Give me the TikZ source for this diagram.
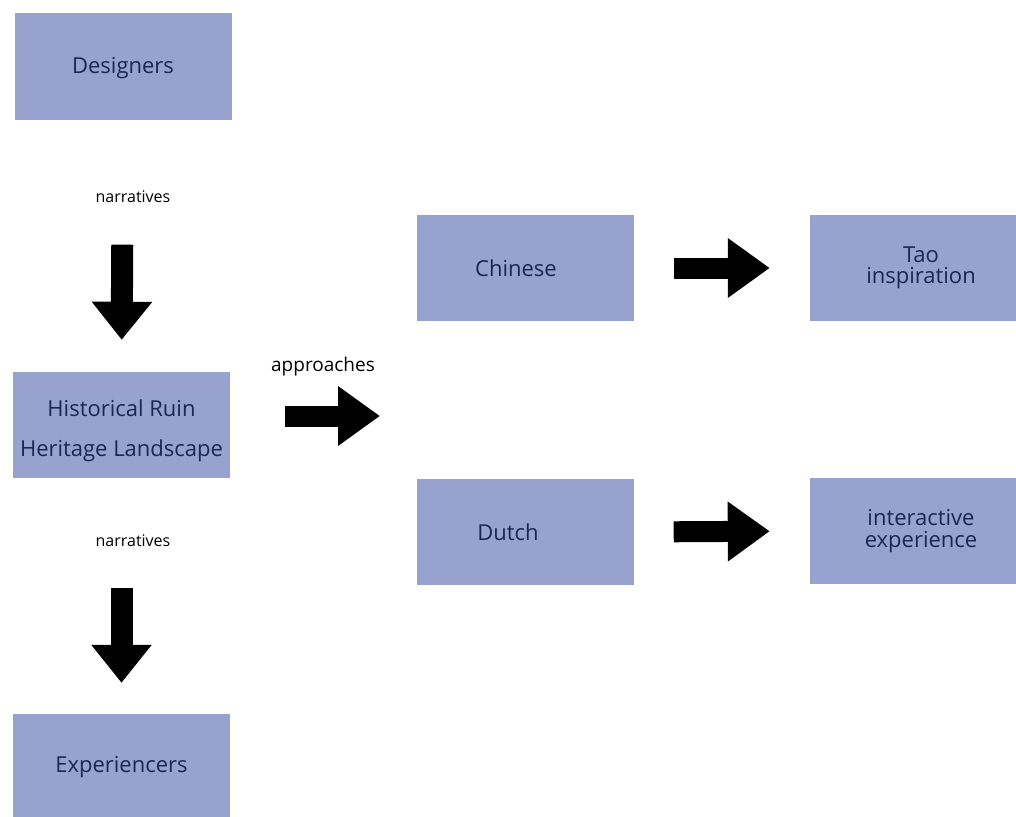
\documentclass[tikz,border=0pt]{standalone}
\usepackage{fontspec}
\setmainfont{Open Sans}
\usetikzlibrary{arrows.meta}
\definecolor{boxfill}{HTML}{98A2CE}
\definecolor{boxtext}{HTML}{1C2652}
\begin{document}
\begin{tikzpicture}[x=1pt,y=-1pt,
  box/.style={fill=boxfill, draw=none, minimum width=217pt, minimum height=106pt,
    inner sep=0pt, text=boxtext, font=\fontsize{22}{26}\selectfont, align=center},
  boxtitle/.style={inner sep=0pt, text=boxtext, align=center},
  tight/.style={font=\fontsize{22}{21.5}\selectfont},
  edgelabel/.style={text=black, font=\fontsize{16}{20}\selectfont, inner sep=0pt},
  vflow/.style={line width=22pt, -{Triangle[width=58pt,length=38pt]}},
  hflow/.style={line width=21pt, -{Triangle[width=57pt,length=42pt]}}]
\useasboundingbox (0,0) rectangle (1016,816);
% left column
\node[box] (designers) at (123,66.5) {};
\node[boxtitle, font=\fontsize{22}{26}\selectfont] (designerstext) at ([yshift=-2pt]designers.center) {Designers};
\node[box] (heritage) at (121.5,425) {};
\node[boxtitle, font=\fontsize{22}{40}\selectfont] (heritagetext) at ([yshift=-6pt]heritage.center)
  {Historical Ruin\\Heritage Landscape};
\node[box] (experiencers) at (121.5,767) {Experiencers};
% right side
\node[box] (chinese) at (525,268) {\hspace*{-18pt}Chinese};
\node[box] (dutch) at (525,532) {\hspace*{-34pt}Dutch};
\node[box, tight, minimum width=206pt] (tao) at (913,268) {\hspace*{16pt}Tao\\\hspace*{16pt}inspiration};
\node[box, tight, minimum width=206pt] (interactive) at (913,531) {\hspace*{16pt}interactive\\\hspace*{16pt}experience};
% labels
\node[edgelabel] (lab1) at (133,197) {narratives};
\node[edgelabel] (lab2) at (133,541) {narratives};
\node[edgelabel, font=\fontsize{19}{22}\selectfont] (lab3) at (323,367) {approaches};
% flow arrows
\draw[vflow, shorten <=125pt, shorten >=32pt] (designers.south) -- (heritage.north);
\draw[vflow, shorten <=110pt, shorten >=31pt] (heritage.south) -- (experiencers.north);
\coordinate (appstart) at (285,416);
\coordinate (append) at (380,416);
\draw[hflow] (appstart) -- (append);
\draw[hflow, shorten <=40pt, shorten >=40pt] (chinese.east) -- (tao.west);
\draw[hflow, shorten <=40pt, shorten >=40pt] (dutch.east) -- (interactive.west);
\end{tikzpicture}
\end{document}
